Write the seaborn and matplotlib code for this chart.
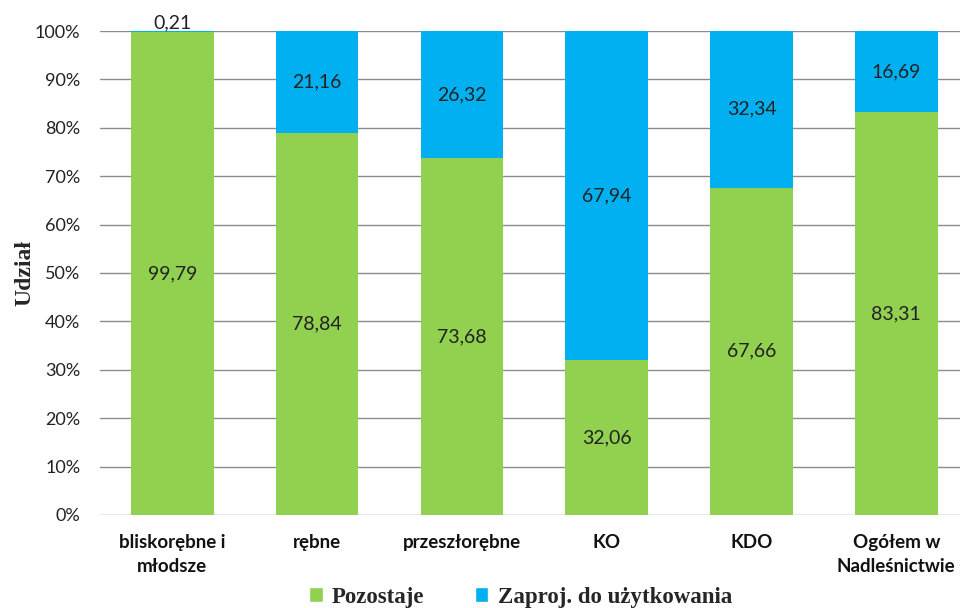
import matplotlib
matplotlib.use("Agg")
import matplotlib.pyplot as plt
import seaborn as sns
import pandas as pd
from matplotlib.ticker import PercentFormatter
from matplotlib.patches import Patch

categories = ["bliskorębne i\nmłodsze", "rębne", "przeszłorębne", "KO", "KDO", "Ogółem w\nNadleśnictwie"]
pozostaje = [99.79, 78.84, 73.68, 32.06, 67.66, 83.31]
zaproj = [0.21, 21.16, 26.32, 67.94, 32.34, 16.69]
series_names = ["Pozostaje", "Zaproj. do użytkowania"]

GREEN = "#92D050"
BLUE = "#00B0F0"

sns.set_theme(style="white")
plt.rcParams['font.family'] = ['Lato', 'DejaVu Sans']

df = pd.DataFrame({"kat": categories, "poz": pozostaje, "zap": zaproj})
df["total"] = df["poz"] + df["zap"]

fig = plt.figure(figsize=(9.6, 6.08), dpi=100)
ax = fig.add_axes([0.104, 0.153, 0.896, 0.796])

sns.barplot(data=df, x="kat", y="total", color=BLUE, width=0.57, ax=ax, saturation=1, linewidth=0)
sns.barplot(data=df, x="kat", y="poz", color=GREEN, width=0.57, ax=ax, saturation=1, linewidth=0)

ax.set_ylim(0, 100)
ax.set_xlim(-0.5, 5.44)
ax.set_yticks(range(0, 101, 10))
ax.yaxis.set_major_formatter(PercentFormatter(decimals=0))
ax.grid(axis="y", color="#8c8c8c", linewidth=1)
ax.set_axisbelow(True)
for s in ax.spines.values():
    s.set_visible(False)
ax.tick_params(axis="both", length=0)
ax.tick_params(axis="y", labelsize=13, colors="#222222", pad=14)
ax.tick_params(axis="x", pad=14)
for lbl in ax.get_xticklabels():
    lbl.set_fontweight("bold")
    lbl.set_fontsize(13.5)
    lbl.set_color("#111111")
    lbl.set_linespacing(1.45)
ax.set_xlabel("")
ax.set_ylabel("Udział", family=["Liberation Serif"], fontweight="bold", fontsize=17, labelpad=0)

fmt = lambda v: f"{v:.2f}".replace(".", ",")
for i, (p, z) in enumerate(zip(pozostaje, zaproj)):
    ax.text(i, p / 2, fmt(p), ha="center", va="center", fontsize=14, color="#222222")
    if z < 3:
        ax.text(i, p + z, fmt(z), ha="center", va="bottom", fontsize=14, color="#222222")
    else:
        ax.text(i, p + z / 2, fmt(z), ha="center", va="center", fontsize=14, color="#222222")

handles = [Patch(facecolor=GREEN), Patch(facecolor=BLUE)]
fig.legend(handles, series_names, loc="center", bbox_to_anchor=(0.542, 0.018), ncol=2, frameon=False,
           prop={"family": ["Liberation Serif"], "weight": "bold", "size": 16.5},
           handlelength=0.6, handleheight=0.6, handletextpad=0.4, columnspacing=2.2)

fig.savefig("out.png", dpi=100)
